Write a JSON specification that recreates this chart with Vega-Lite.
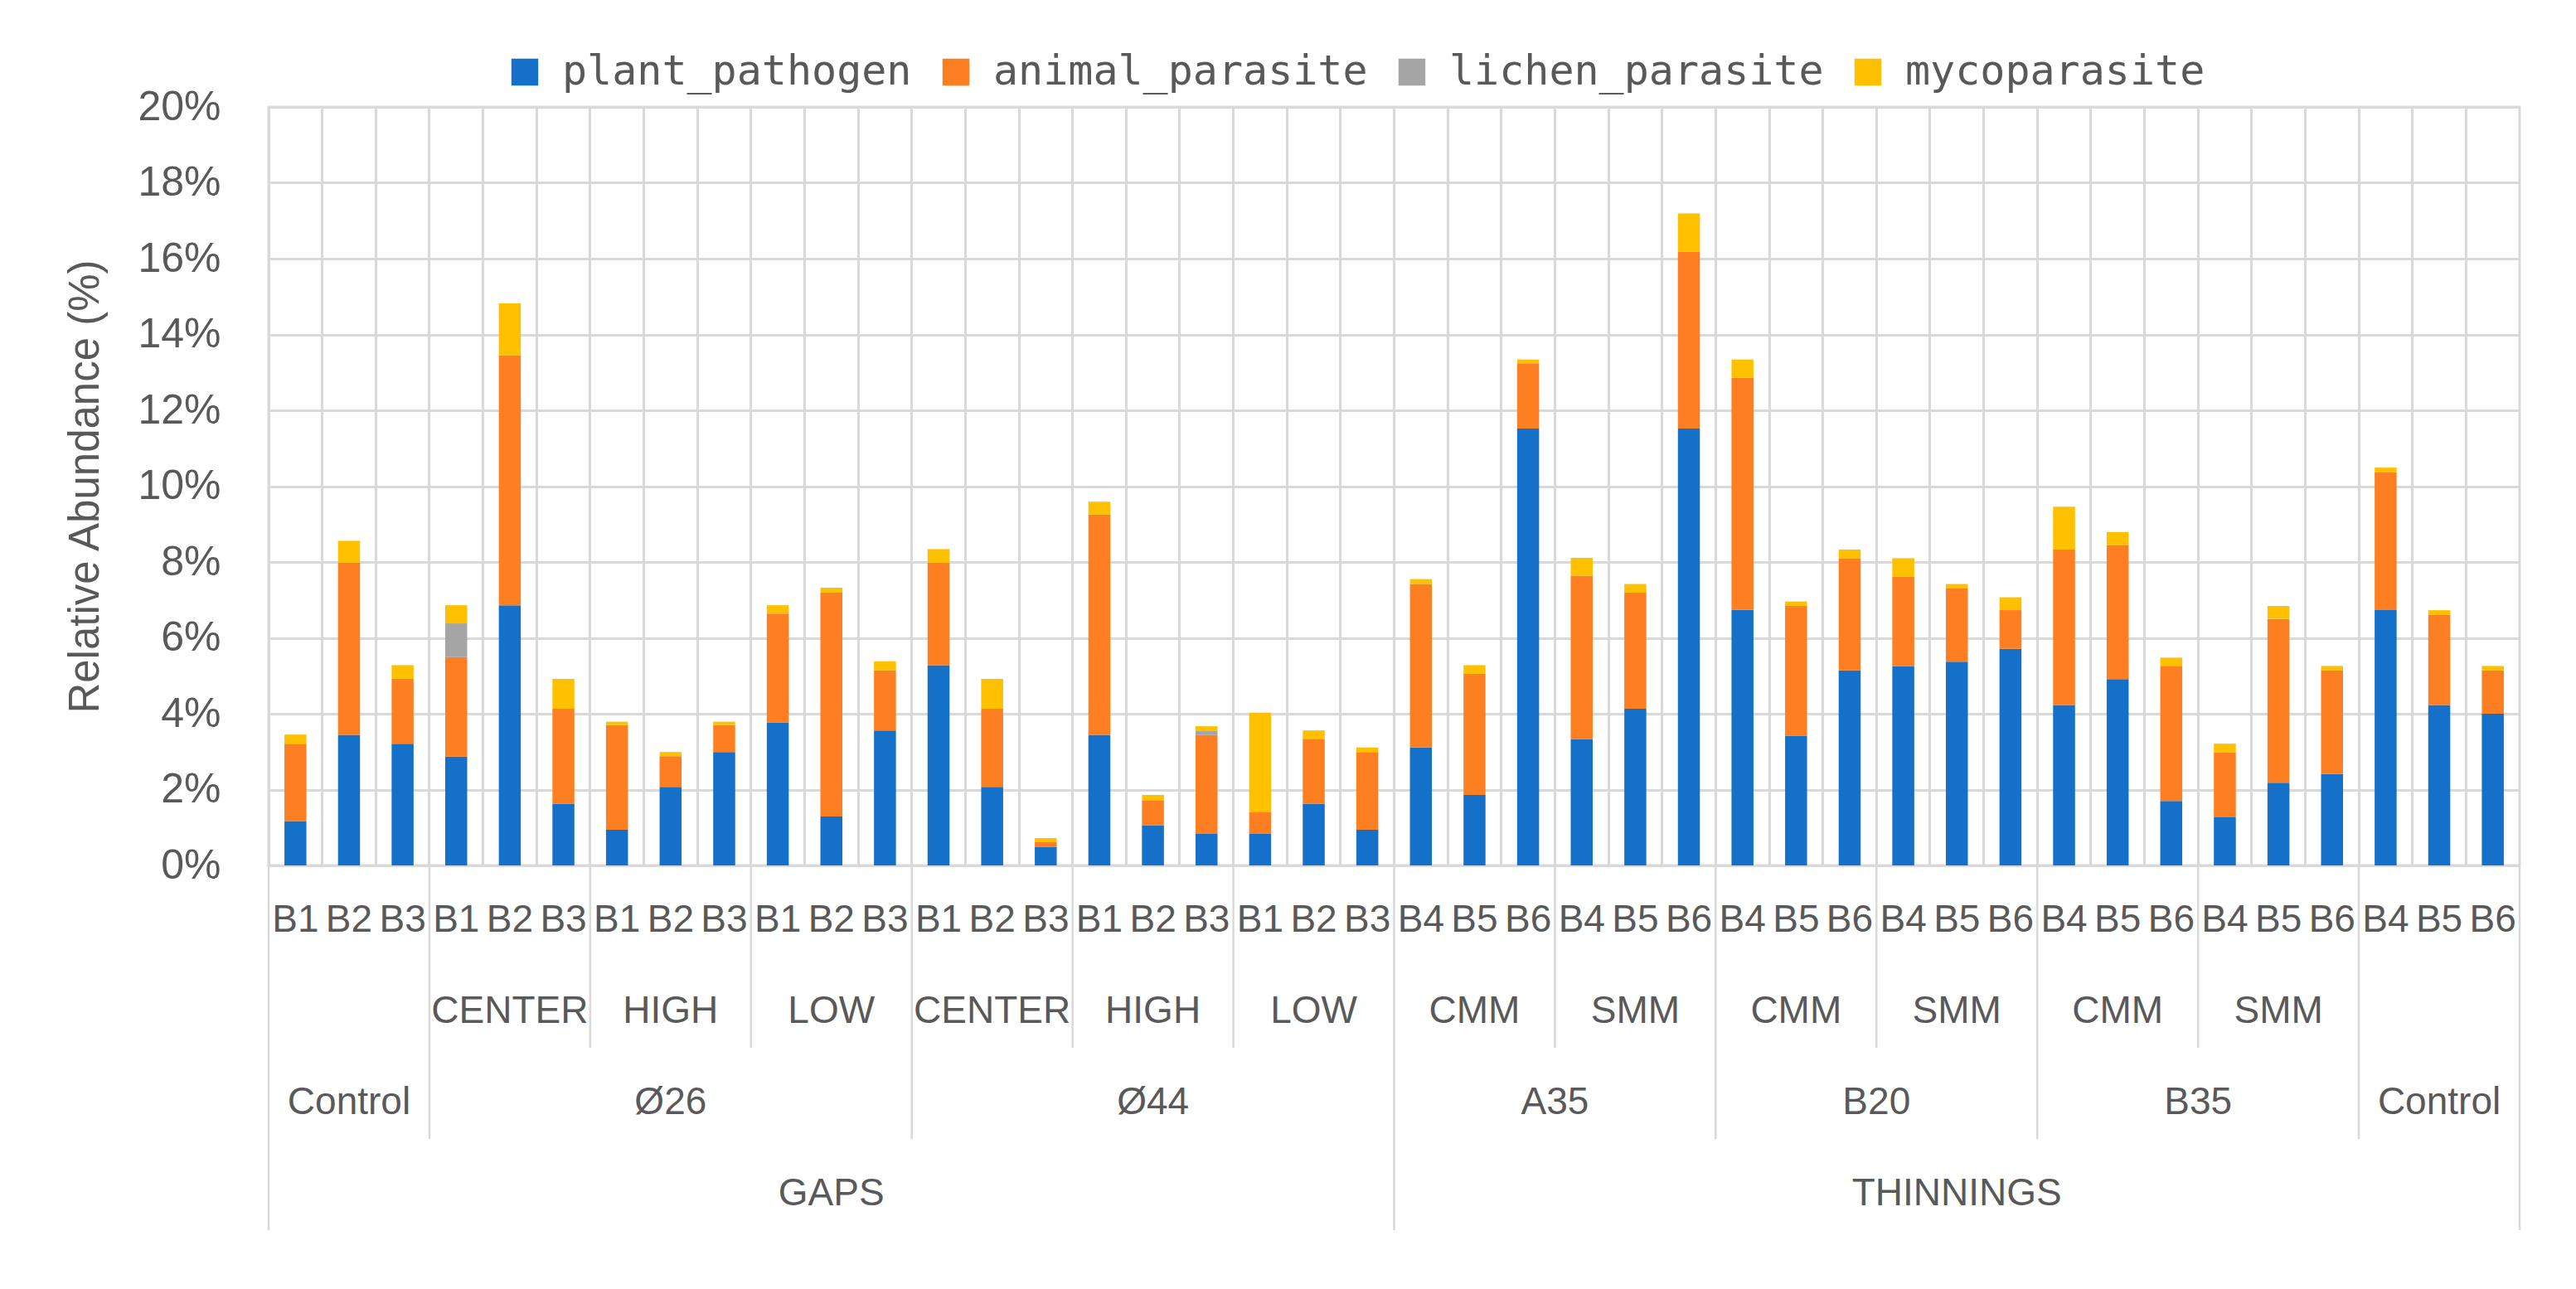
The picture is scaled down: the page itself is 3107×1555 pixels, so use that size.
{
  "$schema": "https://vega.github.io/schema/vega-lite/v6.json",
  "background": "white",
  "padding": {"left": 76, "top": 60, "right": 10, "bottom": 10},
  "config": {"view": {"stroke": null}, "font": "Liberation Sans"},
  "datasets": {
    "bars": [
      {"k": 1, "b": "B1", "plant_pathogen": 1.17, "animal_parasite": 2.04, "lichen_parasite": 0, "mycoparasite": 0.24},
      {"k": 2, "b": "B2", "plant_pathogen": 3.44, "animal_parasite": 4.54, "lichen_parasite": 0, "mycoparasite": 0.58},
      {"k": 3, "b": "B3", "plant_pathogen": 3.21, "animal_parasite": 1.71, "lichen_parasite": 0, "mycoparasite": 0.36},
      {"k": 4, "b": "B1", "plant_pathogen": 2.87, "animal_parasite": 2.62, "lichen_parasite": 0.89, "mycoparasite": 0.48},
      {"k": 5, "b": "B2", "plant_pathogen": 6.86, "animal_parasite": 6.59, "lichen_parasite": 0, "mycoparasite": 1.37},
      {"k": 6, "b": "B3", "plant_pathogen": 1.63, "animal_parasite": 2.5, "lichen_parasite": 0, "mycoparasite": 0.79},
      {"k": 7, "b": "B1", "plant_pathogen": 0.94, "animal_parasite": 2.76, "lichen_parasite": 0, "mycoparasite": 0.09},
      {"k": 8, "b": "B2", "plant_pathogen": 2.07, "animal_parasite": 0.81, "lichen_parasite": 0, "mycoparasite": 0.11},
      {"k": 9, "b": "B3", "plant_pathogen": 2.99, "animal_parasite": 0.71, "lichen_parasite": 0, "mycoparasite": 0.09},
      {"k": 10, "b": "B1", "plant_pathogen": 3.77, "animal_parasite": 2.87, "lichen_parasite": 0, "mycoparasite": 0.22},
      {"k": 11, "b": "B2", "plant_pathogen": 1.29, "animal_parasite": 5.9, "lichen_parasite": 0, "mycoparasite": 0.13},
      {"k": 12, "b": "B3", "plant_pathogen": 3.56, "animal_parasite": 1.58, "lichen_parasite": 0, "mycoparasite": 0.24},
      {"k": 13, "b": "B1", "plant_pathogen": 5.28, "animal_parasite": 2.7, "lichen_parasite": 0, "mycoparasite": 0.36},
      {"k": 14, "b": "B2", "plant_pathogen": 2.07, "animal_parasite": 2.06, "lichen_parasite": 0, "mycoparasite": 0.79},
      {"k": 15, "b": "B3", "plant_pathogen": 0.49, "animal_parasite": 0.12, "lichen_parasite": 0, "mycoparasite": 0.11},
      {"k": 16, "b": "B1", "plant_pathogen": 3.44, "animal_parasite": 5.81, "lichen_parasite": 0, "mycoparasite": 0.34},
      {"k": 17, "b": "B2", "plant_pathogen": 1.06, "animal_parasite": 0.66, "lichen_parasite": 0, "mycoparasite": 0.14},
      {"k": 18, "b": "B3", "plant_pathogen": 0.83, "animal_parasite": 2.61, "lichen_parasite": 0.1, "mycoparasite": 0.13},
      {"k": 19, "b": "B1", "plant_pathogen": 0.83, "animal_parasite": 0.57, "lichen_parasite": 0, "mycoparasite": 2.63},
      {"k": 20, "b": "B2", "plant_pathogen": 1.63, "animal_parasite": 1.71, "lichen_parasite": 0, "mycoparasite": 0.22},
      {"k": 21, "b": "B3", "plant_pathogen": 0.94, "animal_parasite": 2.05, "lichen_parasite": 0, "mycoparasite": 0.12},
      {"k": 22, "b": "B4", "plant_pathogen": 3.11, "animal_parasite": 4.31, "lichen_parasite": 0, "mycoparasite": 0.13},
      {"k": 23, "b": "B5", "plant_pathogen": 1.86, "animal_parasite": 3.19, "lichen_parasite": 0, "mycoparasite": 0.23},
      {"k": 24, "b": "B6", "plant_pathogen": 11.52, "animal_parasite": 1.72, "lichen_parasite": 0, "mycoparasite": 0.1},
      {"k": 25, "b": "B4", "plant_pathogen": 3.33, "animal_parasite": 4.31, "lichen_parasite": 0, "mycoparasite": 0.47},
      {"k": 26, "b": "B5", "plant_pathogen": 4.13, "animal_parasite": 3.06, "lichen_parasite": 0, "mycoparasite": 0.23},
      {"k": 27, "b": "B6", "plant_pathogen": 11.52, "animal_parasite": 4.66, "lichen_parasite": 0, "mycoparasite": 1.01},
      {"k": 28, "b": "B4", "plant_pathogen": 6.74, "animal_parasite": 6.12, "lichen_parasite": 0, "mycoparasite": 0.48},
      {"k": 29, "b": "B5", "plant_pathogen": 3.42, "animal_parasite": 3.42, "lichen_parasite": 0, "mycoparasite": 0.12},
      {"k": 30, "b": "B6", "plant_pathogen": 5.14, "animal_parasite": 2.96, "lichen_parasite": 0, "mycoparasite": 0.23},
      {"k": 31, "b": "B4", "plant_pathogen": 5.25, "animal_parasite": 2.37, "lichen_parasite": 0, "mycoparasite": 0.48},
      {"k": 32, "b": "B5", "plant_pathogen": 5.37, "animal_parasite": 1.93, "lichen_parasite": 0, "mycoparasite": 0.12},
      {"k": 33, "b": "B6", "plant_pathogen": 5.71, "animal_parasite": 1.02, "lichen_parasite": 0, "mycoparasite": 0.34},
      {"k": 34, "b": "B4", "plant_pathogen": 4.23, "animal_parasite": 4.1, "lichen_parasite": 0, "mycoparasite": 1.13},
      {"k": 35, "b": "B5", "plant_pathogen": 4.91, "animal_parasite": 3.54, "lichen_parasite": 0, "mycoparasite": 0.34},
      {"k": 36, "b": "B6", "plant_pathogen": 1.7, "animal_parasite": 3.56, "lichen_parasite": 0, "mycoparasite": 0.22},
      {"k": 37, "b": "B4", "plant_pathogen": 1.27, "animal_parasite": 1.71, "lichen_parasite": 0, "mycoparasite": 0.23},
      {"k": 38, "b": "B5", "plant_pathogen": 2.18, "animal_parasite": 4.32, "lichen_parasite": 0, "mycoparasite": 0.34},
      {"k": 39, "b": "B6", "plant_pathogen": 2.41, "animal_parasite": 2.73, "lichen_parasite": 0, "mycoparasite": 0.12},
      {"k": 40, "b": "B4", "plant_pathogen": 6.73, "animal_parasite": 3.64, "lichen_parasite": 0, "mycoparasite": 0.12},
      {"k": 41, "b": "B5", "plant_pathogen": 4.23, "animal_parasite": 2.38, "lichen_parasite": 0, "mycoparasite": 0.12},
      {"k": 42, "b": "B6", "plant_pathogen": 4.0, "animal_parasite": 1.14, "lichen_parasite": 0, "mycoparasite": 0.12}
    ],
    "guilds": [
      {"guild": "plant_pathogen", "gi": 0},
      {"guild": "animal_parasite", "gi": 1},
      {"guild": "lichen_parasite", "gi": 2},
      {"guild": "mycoparasite", "gi": 3}
    ],
    "labmid": [
      {"label": "CENTER", "k": 5, "row": 2},
      {"label": "HIGH", "k": 8, "row": 2},
      {"label": "LOW", "k": 11, "row": 2},
      {"label": "CENTER", "k": 14, "row": 2},
      {"label": "HIGH", "k": 17, "row": 2},
      {"label": "LOW", "k": 20, "row": 2},
      {"label": "CMM", "k": 23, "row": 2},
      {"label": "SMM", "k": 26, "row": 2},
      {"label": "CMM", "k": 29, "row": 2},
      {"label": "SMM", "k": 32, "row": 2},
      {"label": "CMM", "k": 35, "row": 2},
      {"label": "SMM", "k": 38, "row": 2},
      {"label": "Control", "k": 2, "row": 3},
      {"label": "Ø26", "k": 8, "row": 3},
      {"label": "Ø44", "k": 17, "row": 3},
      {"label": "Control", "k": 41, "row": 3},
      {"label": "GAPS", "k": 11, "row": 4},
      {"label": "THINNINGS", "k": 32, "row": 4}
    ],
    "labedge": [
      {"label": "A35", "k": 25, "row": 3},
      {"label": "B20", "k": 31, "row": 3},
      {"label": "B35", "k": 37, "row": 3}
    ],
    "seps": [
      {"k": 1, "depth": 4},
      {"k": 4, "depth": 3},
      {"k": 7, "depth": 2},
      {"k": 10, "depth": 2},
      {"k": 13, "depth": 3},
      {"k": 16, "depth": 2},
      {"k": 19, "depth": 2},
      {"k": 22, "depth": 4},
      {"k": 25, "depth": 2},
      {"k": 28, "depth": 3},
      {"k": 31, "depth": 2},
      {"k": 34, "depth": 3},
      {"k": 37, "depth": 2},
      {"k": 40, "depth": 3}
    ],
    "sepend": [
      {"k": 42, "depth": 4}
    ]
  },
  "spacing": 0,
  "bounds": "flush",
  "resolve": {"scale": {"x": "shared"}, "legend": {"color": "independent"}},
  "vconcat": [
    {
      "width": 2715,
      "height": 915,
      "view": {"stroke": "#d9d9d9", "strokeWidth": 3},
      "data": {"name": "bars"},
      "transform": [
        {"fold": ["plant_pathogen", "animal_parasite", "lichen_parasite", "mycoparasite"], "as": ["guild", "v"]},
        {"lookup": "guild", "from": {"data": {"name": "guilds"}, "key": "guild", "fields": ["gi"]}}
      ],
      "mark": {"type": "bar", "width": {"band": 0.41}},
      "encoding": {
        "x": {
          "field": "k", "type": "ordinal",
          "scale": {"paddingInner": 0, "paddingOuter": 0},
          "axis": {"title": null, "labels": false, "ticks": false, "tickSize": 0, "labelPadding": 0, "domain": false, "grid": true, "gridColor": "#d9d9d9", "gridWidth": 3, "bandPosition": 0, "minExtent": 0, "maxExtent": 0}
        },
        "y": {
          "field": "v", "type": "quantitative", "stack": "zero",
          "scale": {"domain": [0, 20], "nice": false},
          "axis": {
            "title": "Relative Abundance (%)",
            "titleFont": "Liberation Sans", "titleFontSize": 51, "titleFontWeight": "normal", "titleColor": "#595959", "titlePadding": 36,
            "values": [0, 2, 4, 6, 8, 10, 12, 14, 16, 18, 20],
            "labelExpr": "datum.value + '%'",
            "labelFont": "Liberation Sans", "labelFontSize": 50, "labelColor": "#595959", "labelPadding": 58,
            "ticks": false, "tickSize": 0, "domain": false,
            "grid": true, "gridColor": "#d9d9d9", "gridWidth": 3
          }
        },
        "color": {
          "field": "guild", "type": "nominal",
          "scale": {"domain": ["plant_pathogen", "animal_parasite", "lichen_parasite", "mycoparasite"], "range": ["#1470C8", "#FE7F22", "#A5A5A5", "#FFC000"]},
          "legend": {
            "title": null, "orient": "none", "direction": "horizontal", "legendX": 284, "legendY": -67,
            "symbolType": "square", "symbolSize": 1050, "symbolStrokeWidth": 0,
            "labelFont": "DejaVu Sans Mono", "labelFontSize": 50, "labelColor": "#595959", "labelOffset": 20, "labelLimit": 1000,
            "columnPadding": 28, "padding": 0
          }
        },
        "order": {"field": "gi", "type": "quantitative", "sort": "ascending"}
      }
    },
    {
      "width": 2715,
      "height": 440,
      "layer": [
        {
          "data": {"name": "seps"},
          "mark": {"type": "rule", "color": "#d9d9d9", "strokeWidth": 2.5},
          "encoding": {
            "x": {"field": "k", "type": "ordinal", "bandPosition": 0, "axis": null},
            "y": {"field": "depth", "type": "quantitative", "scale": {"domain": [0, 4], "reverse": true, "nice": false}, "axis": null},
            "y2": {"datum": 0}
          }
        },
        {
          "data": {"name": "sepend"},
          "mark": {"type": "rule", "color": "#d9d9d9", "strokeWidth": 2.5},
          "encoding": {
            "x": {"field": "k", "type": "ordinal", "bandPosition": 1, "axis": null},
            "y": {"field": "depth", "type": "quantitative", "axis": null},
            "y2": {"datum": 0}
          }
        },
        {
          "data": {"name": "bars"},
          "mark": {"type": "text", "font": "Liberation Sans", "fontSize": 46, "color": "#595959", "baseline": "middle", "dy": -44},
          "encoding": {
            "x": {"field": "k", "type": "ordinal", "axis": null},
            "y": {"datum": 1, "type": "quantitative", "axis": null},
            "text": {"field": "b"}
          }
        },
        {
          "data": {"name": "labmid"},
          "mark": {"type": "text", "font": "Liberation Sans", "fontSize": 46, "color": "#595959", "baseline": "middle", "dy": -44},
          "encoding": {
            "x": {"field": "k", "type": "ordinal", "axis": null},
            "y": {"field": "row", "type": "quantitative", "axis": null},
            "text": {"field": "label"}
          }
        },
        {
          "data": {"name": "labedge"},
          "mark": {"type": "text", "font": "Liberation Sans", "fontSize": 46, "color": "#595959", "baseline": "middle", "dy": -44},
          "encoding": {
            "x": {"field": "k", "type": "ordinal", "bandPosition": 0, "axis": null},
            "y": {"field": "row", "type": "quantitative", "axis": null},
            "text": {"field": "label"}
          }
        }
      ]
    }
  ]
}
